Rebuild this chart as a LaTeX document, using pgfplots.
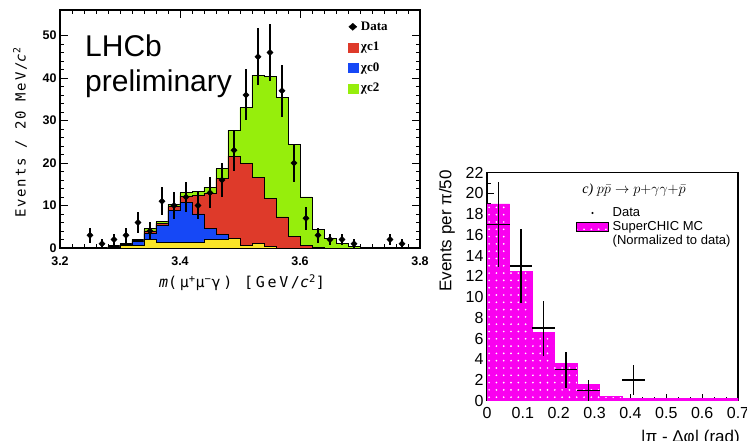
\documentclass[border=0pt]{standalone}
\usepackage{fontspec}
\setmainfont{Liberation Sans}
\newfontfamily\serifl{Liberation Serif}
\newfontfamily\monol[LetterSpace=12]{DejaVu Sans Mono}
\newfontfamily\monox[LetterSpace=18]{DejaVu Sans Mono}
\usepackage{pgfplots}
\pgfplotsset{compat=1.18}
\usetikzlibrary{patterns.meta}
\definecolor{chired}{RGB}{222,58,42}
\definecolor{chiblue}{RGB}{22,72,246}
\definecolor{chigreen}{RGB}{150,238,12}
\definecolor{chiyellow}{RGB}{250,228,40}
\definecolor{mcmag}{RGB}{250,0,240}
\begin{document}
\begin{tikzpicture}
\useasboundingbox (0pt,0pt) rectangle (747pt,441pt);
\clip (0pt,0pt) rectangle (747pt,441pt);
\fill[white] (0pt,0pt) rectangle (747pt,441pt);

% ---------------- left panel ----------------
\begin{axis}[
  at={(60pt,193pt)}, anchor=south west,
  width=360pt, height=238pt, scale only axis,
  xmin=3.2, xmax=3.8, ymin=0, ymax=56,
  xtick={3.2,3.4,3.6,3.8}, minor x tick num=9,
  ytick={0,10,20,30,40,50}, minor y tick num=4,
  tick align=inside, major tick length=8pt, minor tick length=4pt,
  axis line style={line width=1.6pt},
  every tick/.style={black, line width=0.9pt},
  /pgf/number format/assume math mode=true,
  ticklabel style={font=\fontsize{12.5}{14}\selectfont\bfseries},
  xticklabel style={/pgf/number format/.cd, fixed, fixed zerofill, precision=1, /tikz/.cd, yshift=-5pt},
  clip mode=individual,
  legend style={at={(0.79,0.965)}, anchor=north west, draw=none, fill=none,
    font=\serifl\fontsize{13}{14}\selectfont\bfseries, row sep=8pt, column sep=3pt,
    nodes={inner sep=0pt, text height=9.5pt, text depth=3pt}},
  legend cell align=left,
]
\addplot[const plot mark left, fill=chigreen, draw=black, line width=0.9pt, forget plot] coordinates {
(3.28,0.5)(3.30,1.0)(3.32,2.0)(3.34,4.5)(3.36,6.2)(3.38,10.3)(3.40,13.0)(3.42,13.2)(3.44,14.3)(3.46,18.6)(3.48,27.7)(3.50,33.0)(3.52,40.6)(3.54,40.3)(3.56,35.5)(3.58,24.4)(3.60,12.0)(3.62,4.4)(3.64,2.3)(3.66,1.0)(3.68,0.4)(3.70,0)} \closedcycle;
\addplot[const plot mark left, fill=chired, draw=black, line width=0.9pt, forget plot] coordinates {
(3.28,0.3)(3.30,0.8)(3.32,1.8)(3.34,4.0)(3.36,5.8)(3.38,9.7)(3.40,12.2)(3.42,12.4)(3.44,12.9)(3.46,16.4)(3.48,21.6)(3.50,19.9)(3.52,16.7)(3.54,11.7)(3.56,7.3)(3.58,2.7)(3.60,0.5)(3.62,0.2)(3.64,0)} \closedcycle;
\addplot[const plot mark left, fill=chiblue, draw=black, line width=0.9pt, forget plot] coordinates {
(3.28,0.2)(3.30,0.7)(3.32,1.5)(3.34,3.4)(3.36,5.3)(3.38,8.8)(3.40,10.7)(3.42,8.0)(3.44,4.5)(3.46,3.2)(3.48,2.3)(3.50,0.6)(3.52,1.0)(3.54,0.3)(3.56,0)} \closedcycle;
\addplot[const plot mark left, fill=chiyellow, draw=black, line width=0.9pt, forget plot] coordinates {
(3.28,0.1)(3.30,0.6)(3.32,0.7)(3.34,2.1)(3.36,1.3)(3.38,1.3)(3.40,1.3)(3.42,1.4)(3.44,1.9)(3.46,1.9)(3.48,2.3)(3.50,0.6)(3.52,1.0)(3.54,0.3)(3.56,0)} \closedcycle;
\addplot[only marks, mark=diamond*, mark size=3.2pt, black, mark options={xscale=1.3}, forget plot,
  error bars/.cd, y dir=both, y explicit, error mark=none, error bar style={line width=1.2pt, black}]
coordinates {
(3.25,3) +- (0,1.73)
(3.27,1) +- (0,1.0)
(3.29,2) +- (0,1.41)
(3.31,3) +- (0,1.73)
(3.33,6) +- (0,2.45)
(3.35,4) +- (0,2.0)
(3.37,11) +- (0,3.32)
(3.39,10) +- (0,3.16)
(3.41,12) +- (0,3.46)
(3.43,10) +- (0,3.16)
(3.45,13) +- (0,3.61)
(3.47,16) +- (0,4.0)
(3.49,23) +- (0,4.80)
(3.51,36) +- (0,6.0)
(3.53,45) +- (0,6.71)
(3.55,46) +- (0,6.78)
(3.57,37) +- (0,6.08)
(3.59,20) +- (0,4.47)
(3.61,7) +- (0,2.65)
(3.63,3) +- (0,1.73)
(3.65,2) +- (0,1.41)
(3.67,2) +- (0,1.41)
(3.69,1) +- (0,1.0)
(3.75,2) +- (0,1.41)
(3.77,1) +- (0,1.0)
};
\addlegendimage{legend image code/.code={\path (0pt,0pt) (10pt,0pt); \fill[black] (5pt,3.5pt) -- (9pt,0pt) -- (5pt,-3.5pt) -- (1pt,0pt) -- cycle;}}
\addlegendentry{Data}
\addlegendimage{legend image code/.code={\fill[chired] (0pt,-4.5pt) rectangle (10pt,4.5pt);}}
\addlegendentry{χc1}
\addlegendimage{legend image code/.code={\fill[chiblue] (0pt,-4.5pt) rectangle (10pt,4.5pt);}}
\addlegendentry{χc0}
\addlegendimage{legend image code/.code={\fill[chigreen] (0pt,-4.5pt) rectangle (10pt,4.5pt);}}
\addlegendentry{χc2}
\end{axis}

\node[anchor=base west, inner sep=0pt, font=\fontsize{30}{36}\selectfont] at (85pt,384.3pt) {LHCb};
\node[anchor=base west, inner sep=0pt, font=\fontsize{30}{36}\selectfont] at (85pt,349.3pt) {preliminary};
\node[rotate=90, inner sep=0pt, font=\monol\fontsize{14}{16}\selectfont] at (20pt,308.5pt) {Events / 20 MeV/{\itshape c}\textsuperscript{2}};
\node[inner sep=0pt, font=\monox\fontsize{15}{17}\selectfont] at (242pt,158pt) {{\itshape m}(μ\textsuperscript{+}μ\textsuperscript{−}γ) [GeV/{\itshape c}\textsuperscript{2}]};

% ---------------- right panel ----------------
\begin{axis}[
  at={(487pt,40.3pt)}, anchor=south west,
  width=251pt, height=228pt, scale only axis,
  xmin=0, xmax=0.7, ymin=0, ymax=22,
  xtick={0,0.1,0.2,0.3,0.4,0.5,0.6,0.7}, ytick={0,2,4,6,8,10,12,14,16,18,20,22},
  minor x tick num=2, minor y tick num=1,
  xtick pos=left, ytick pos=left, tick align=inside,
  major tick length=7pt, minor tick length=4pt,
  axis line style={line width=1.2pt},
  every tick/.style={black, line width=0.9pt},
  /pgf/number format/assume math mode=true,
  ticklabel style={font=\fontsize{16}{18}\selectfont},
  xticklabel style={/pgf/number format/fixed, yshift=-3pt},
  clip mode=individual,
  legend style={at={(0.343,0.858)}, anchor=north west, draw=none, fill=none,
    font=\fontsize{13}{14}\selectfont, row sep=2.5pt, column sep=4pt,
    nodes={inner sep=0pt, text height=9pt, text depth=2.5pt}},
  legend cell align=left,
]
\addplot[const plot mark left, fill=mcmag, draw=mcmag, forget plot,
  postaction={pattern={Dots[distance=7.3pt, radius=0.95pt]}, pattern color=white}]
coordinates {(0,19.0)(0.0628,12.5)(0.1257,6.6)(0.1885,3.6)(0.2513,1.6)(0.3142,0.4)(0.3770,0.2)(0.7,0.2)} \closedcycle;
\addplot[only marks, mark=*, mark size=0.5pt, black, forget plot,
  error bars/.cd, x dir=both, x explicit, y dir=both, y explicit, error mark=none,
  error bar style={line width=1.5pt, black}]
coordinates {
(0.0314,17) +- (0.0314,4.12)
(0.0942,13) +- (0.0314,3.61)
(0.1571,7) +- (0.0314,2.65)
(0.2199,3) +- (0.0314,1.73)
(0.2827,1) +- (0.0314,1.0)
(0.4084,2) +- (0.0314,1.41)
};
\addlegendimage{legend image code/.code={\path (0pt,0pt) (32pt,0pt); \fill[black] (16pt,0pt) circle (0.8pt);}}
\addlegendentry{Data}
\addlegendimage{legend image code/.code={\fill[mcmag] (0pt,-4.5pt) rectangle (32pt,4.5pt); \fill[pattern={Dots[distance=7.3pt, radius=0.95pt]}, pattern color=white] (0pt,-4.5pt) rectangle (32pt,4.5pt);}}
\addlegendentry{SuperCHIC MC}
\addlegendimage{legend image code/.code={\path (0pt,0pt) (32pt,0pt);}}
\addlegendentry{(Normalized to data)}
\node[font=\fontsize{14}{16}\selectfont\serifl\itshape] at (rel axis cs:0.586,0.922) {c) $p\bar{p}\rightarrow p{+}\gamma\gamma{+}\bar{p}$};
\end{axis}

\node[rotate=90, anchor=east, inner sep=0pt, font=\fontsize{17}{20}\selectfont] at (447pt,271pt) {Events per π/50};
\node[anchor=base east, inner sep=0pt, font=\fontsize{17}{20}\selectfont] at (740pt,-2pt) {|π - Δφ| (rad)};
\end{tikzpicture}
\end{document}
